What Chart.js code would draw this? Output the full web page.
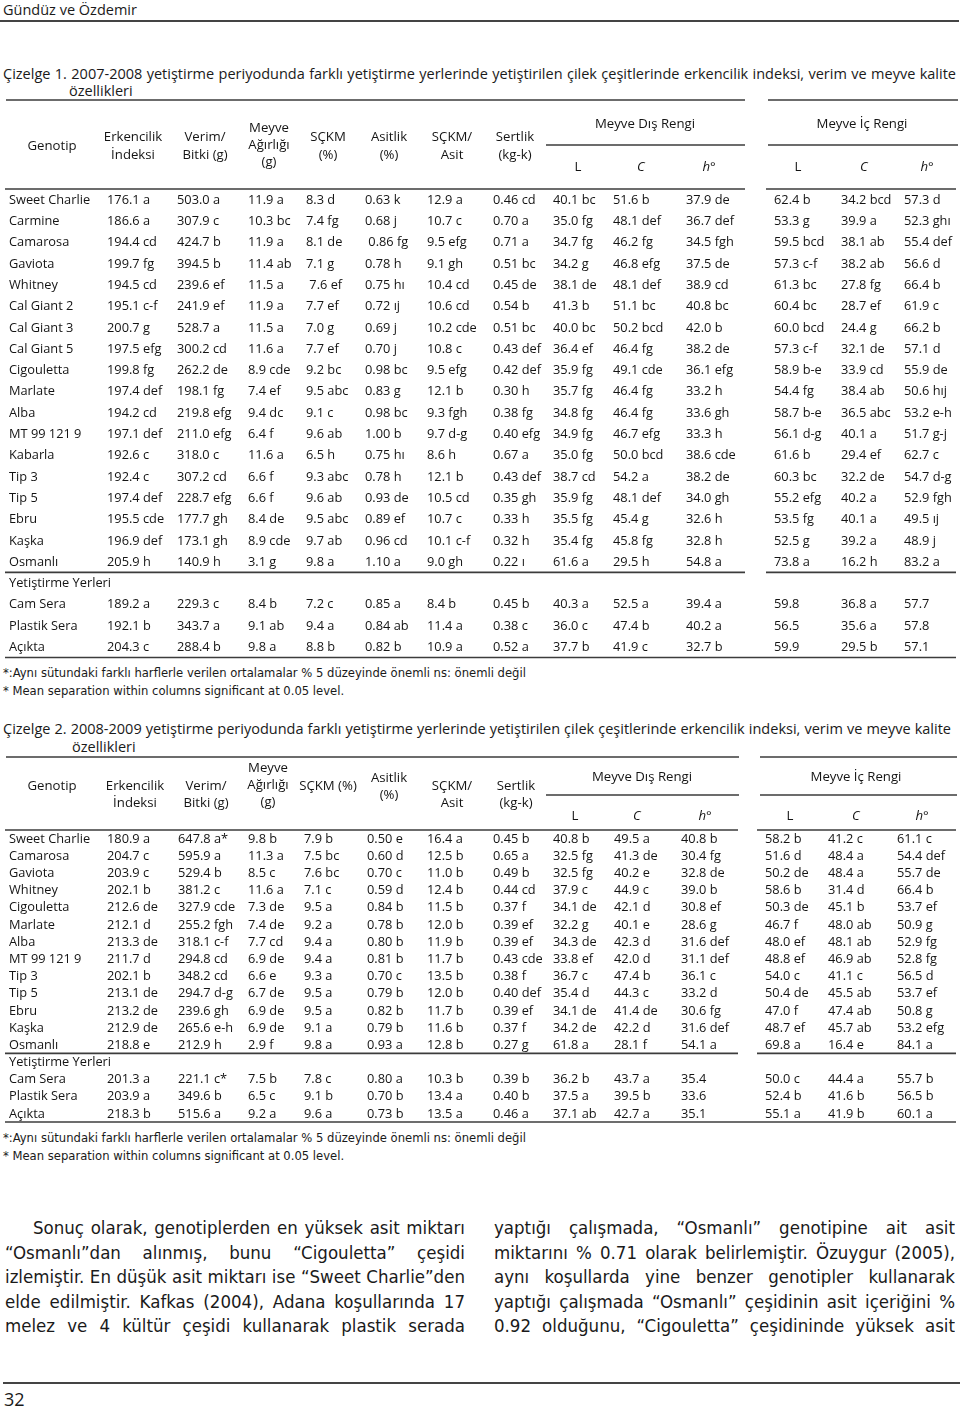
<!DOCTYPE html>
<html lang="tr">
<head>
<meta charset="utf-8">
<title>Çizelge 1 ve 2</title>
<script src="https://cdn.jsdelivr.net/npm/chart.js@4/dist/chart.umd.min.js"></script>
<style>
    html, body { margin: 0; padding: 0; background: #fff; }
    body { width: 960px; height: 1409px; position: relative; overflow: hidden; font-family: 'Open Sans', sans-serif; color: #1a1a1a; }
    .abs { position: absolute; white-space: nowrap; }
    .rule { position: absolute; height: 1.6px; background: #444; }
    .cap { font-size: 15px; line-height: 19px; height: 19px; }
    .note { font-size: 12.9px; line-height: 16px; font-family: 'Liberation Sans Narrow', 'DejaVu Sans Condensed', 'Open Sans', sans-serif; }
    .just { position: absolute; text-align: justify; text-align-last: justify; overflow: hidden; }
    .txt { font-size: 19.5px; line-height: 24px; height: 24px; font-family: 'Liberation Sans Narrow', 'DejaVu Sans Condensed', 'Open Sans', sans-serif; }
    .table-box { position: absolute; left: 0; width: 960px; }
    .table-box canvas { display: block; }
</style>
</head>
<body>
<div class="abs" style="left:3px;top:1px;font-size:14.5px;line-height:18px;">Gündüz ve Özdemir</div>
<div class="rule" style="left:0;top:20px;width:959px;"></div>

<div class="just cap" data-fit="cap" style="left:3px;top:64px;width:953px;">Çizelge 1. 2007-2008 yetiştirme periyodunda farklı yetiştirme yerlerinde yetiştirilen çilek çeşitlerinde erkencilik indeksi, verim ve meyve kalite</div>
<div class="abs cap" data-fit="cap" style="left:69px;top:81px;">özellikleri</div>

<div class="table-box" style="top:95px;height:567px;"><canvas id="table1"></canvas></div>

<div class="abs note" style="left:3px;top:665px;">*:Aynı sütundaki farklı harflerle verilen ortalamalar % 5 düzeyinde önemli ns: önemli değil</div>
<div class="abs note" style="left:3px;top:683px;">* Mean separation within columns significant at 0.05 level.</div>

<div class="just cap" data-fit="cap" style="left:3px;top:719px;width:948px;">Çizelge 2. 2008-2009 yetiştirme periyodunda farklı yetiştirme yerlerinde yetiştirilen çilek çeşitlerinde erkencilik indeksi, verim ve meyve kalite</div>
<div class="abs cap" data-fit="cap" style="left:72px;top:737px;">özellikleri</div>

<div class="table-box" style="top:752px;height:375px;"><canvas id="table2"></canvas></div>

<div class="abs note" style="left:3px;top:1130px;">*:Aynı sütundaki farklı harflerle verilen ortalamalar % 5 düzeyinde önemli ns: önemli değil</div>
<div class="abs note" style="left:3px;top:1148px;">* Mean separation within columns significant at 0.05 level.</div>

<div class="just txt" data-fit="txt" style="left:33px;top:1216px;width:432px;">Sonuç olarak, genotiplerden en yüksek asit miktarı</div>
<div class="just txt" data-fit="txt" style="left:5px;top:1241px;width:460px;">“Osmanlı”dan alınmış, bunu “Cigouletta” çeşidi</div>
<div class="just txt" data-fit="txt" style="left:5px;top:1265px;width:460px;">izlemiştir. En düşük asit miktarı ise “Sweet Charlie”den</div>
<div class="just txt" data-fit="txt" style="left:5px;top:1290px;width:460px;">elde edilmiştir. Kafkas (2004), Adana koşullarında 17</div>
<div class="just txt" data-fit="txt" style="left:5px;top:1314px;width:460px;">melez ve 4 kültür çeşidi kullanarak plastik serada</div>

<div class="just txt" data-fit="txt" style="left:494px;top:1216px;width:461px;">yaptığı çalışmada, “Osmanlı” genotipine ait asit</div>
<div class="just txt" data-fit="txt" style="left:494px;top:1241px;width:461px;">miktarını % 0.71 olarak belirlemiştir. Özuygur (2005),</div>
<div class="just txt" data-fit="txt" style="left:494px;top:1265px;width:461px;">aynı koşullarda yine benzer genotipler kullanarak</div>
<div class="just txt" data-fit="txt" style="left:494px;top:1290px;width:461px;">yaptığı çalışmada “Osmanlı” çeşidinin asit içeriğini %</div>
<div class="just txt" data-fit="txt" style="left:494px;top:1314px;width:461px;">0.92 olduğunu, “Cigouletta” çeşidininde yüksek asit</div>

<div class="rule" style="left:3px;top:1382px;width:957px;"></div>
<div class="abs" style="left:4px;top:1387px;font-size:18px;line-height:24px;">32</div>

<script>
// Table content, read from the page.
const groupLabel = 'Yetiştirme Yerleri';
const colHeads = [['Genotip'], ['Erkencilik', 'İndeksi'], ['Verim/', 'Bitki (g)'], ['Meyve', 'Ağırlığı', '(g)'],
    ['SÇKM', '(%)'], ['Asitlik', '(%)'], ['SÇKM/', 'Asit'], ['Sertlik', '(kg-k)']];
const colHeads2 = [['Genotip'], ['Erkencilik', 'İndeksi'], ['Verim/', 'Bitki (g)'], ['Meyve', 'Ağırlığı', '(g)'],
    ['SÇKM (%)'], ['Asitlik', '(%)'], ['SÇKM/', 'Asit'], ['Sertlik', '(kg-k)']];
const colorGroups = ['Meyve Dış Rengi', 'Meyve İç Rengi'];
const colorParts = ['L', 'C', 'h°'];

// Çizelge 1 (2007-2008)
const t1Genotypes = ['Sweet Charlie', 'Carmine', 'Camarosa', 'Gaviota', 'Whitney', 'Cal Giant 2', 'Cal Giant 3',
    'Cal Giant 5', 'Cigouletta', 'Marlate', 'Alba', 'MT 99 121 9', 'Kabarla', 'Tip 3', 'Tip 5', 'Ebru', 'Kaşka', 'Osmanlı'];
const t1Locations = ['Cam Sera', 'Plastik Sera', 'Açıkta'];
const t1Erkencilik = ['176.1 a', '186.6 a', '194.4 cd', '199.7 fg', '194.5 cd', '195.1 c-f', '200.7 g', '197.5 efg',
    '199.8 fg', '197.4 def', '194.2 cd', '197.1 def', '192.6 c', '192.4 c', '197.4 def', '195.5 cde', '196.9 def', '205.9 h',
    '189.2 a', '192.1 b', '204.3 c'];
const t1Verim = ['503.0 a', '307.9 c', '424.7 b', '394.5 b', '239.6 ef', '241.9 ef', '528.7 a', '300.2 cd', '262.2 de',
    '198.1 fg', '219.8 efg', '211.0 efg', '318.0 c', '307.2 cd', '228.7 efg', '177.7 gh', '173.1 gh', '140.9 h',
    '229.3 c', '343.7 a', '288.4 b'];
const t1Agirlik = ['11.9 a', '10.3 bc', '11.9 a', '11.4 ab', '11.5 a', '11.9 a', '11.5 a', '11.6 a', '8.9 cde', '7.4 ef',
    '9.4 dc', '6.4 f', '11.6 a', '6.6 f', '6.6 f', '8.4 de', '8.9 cde', '3.1 g', '8.4 b', '9.1 ab', '9.8 a'];
const t1Sckm = ['8.3 d', '7.4 fg', '8.1 de', '7.1 g', ' 7.6 ef', '7.7 ef', '7.0 g', '7.7 ef', '9.2 bc', '9.5 abc', '9.1 c',
    '9.6 ab', '6.5 h', '9.3 abc', '9.6 ab', '9.5 abc', '9.7 ab', '9.8 a', '7.2 c', '9.4 a', '8.8 b'];
const t1Asitlik = ['0.63 k', '0.68 j', ' 0.86 fg', '0.78 h', '0.75 hı', '0.72 ıj', '0.69 j', '0.70 j', '0.98 bc', '0.83 g',
    '0.98 bc', '1.00 b', '0.75 hı', '0.78 h', '0.93 de', '0.89 ef', '0.96 cd', '1.10 a', '0.85 a', '0.84 ab', '0.82 b'];
const t1SckmAsit = ['12.9 a', '10.7 c', '9.5 efg', '9.1 gh', '10.4 cd', '10.6 cd', '10.2 cde', '10.8 c', '9.5 efg', '12.1 b',
    '9.3 fgh', '9.7 d-g', '8.6 h', '12.1 b', '10.5 cd', '10.7 c', '10.1 c-f', '9.0 gh', '8.4 b', '11.4 a', '10.9 a'];
const t1Sertlik = ['0.46 cd', '0.70 a', '0.71 a', '0.51 bc', '0.45 de', '0.54 b', '0.51 bc', '0.43 def', '0.42 def', '0.30 h',
    '0.38 fg', '0.40 efg', '0.67 a', '0.43 def', '0.35 gh', '0.33 h', '0.32 h', '0.22 ı', '0.45 b', '0.38 c', '0.52 a'];
const t1DisL = ['40.1 bc', '35.0 fg', '34.7 fg', '34.2 g', '38.1 de', '41.3 b', '40.0 bc', '36.4 ef', '35.9 fg', '35.7 fg',
    '34.8 fg', '34.9 fg', '35.0 fg', '38.7 cd', '35.9 fg', '35.5 fg', '35.4 fg', '61.6 a', '40.3 a', '36.0 c', '37.7 b'];
const t1DisC = ['51.6 b', '48.1 def', '46.2 fg', '46.8 efg', '48.1 def', '51.1 bc', '50.2 bcd', '46.4 fg', '49.1 cde',
    '46.4 fg', '46.4 fg', '46.7 efg', '50.0 bcd', '54.2 a', '48.1 def', '45.4 g', '45.8 fg', '29.5 h', '52.5 a', '47.4 b', '41.9 c'];
const t1DisH = ['37.9 de', '36.7 def', '34.5 fgh', '37.5 de', '38.9 cd', '40.8 bc', '42.0 b', '38.2 de', '36.1 efg', '33.2 h',
    '33.6 gh', '33.3 h', '38.6 cde', '38.2 de', '34.0 gh', '32.6 h', '32.8 h', '54.8 a', '39.4 a', '40.2 a', '32.7 b'];
const t1IcL = ['62.4 b', '53.3 g', '59.5 bcd', '57.3 c-f', '61.3 bc', '60.4 bc', '60.0 bcd', '57.3 c-f', '58.9 b-e', '54.4 fg',
    '58.7 b-e', '56.1 d-g', '61.6 b', '60.3 bc', '55.2 efg', '53.5 fg', '52.5 g', '73.8 a', '59.8', '56.5', '59.9'];
const t1IcC = ['34.2 bcd', '39.9 a', '38.1 ab', '38.2 ab', '27.8 fg', '28.7 ef', '24.4 g', '32.1 de', '33.9 cd', '38.4 ab',
    '36.5 abc', '40.1 a', '29.4 ef', '32.2 de', '40.2 a', '40.1 a', '39.2 a', '16.2 h', '36.8 a', '35.6 a', '29.5 b'];
const t1IcH = ['57.3 d', '52.3 ghı', '55.4 def', '56.6 d', '66.4 b', '61.9 c', '66.2 b', '57.1 d', '55.9 de', '50.6 hıj',
    '53.2 e-h', '51.7 g-j', '62.7 c', '54.7 d-g', '52.9 fgh', '49.5 ıj', '48.9 j', '83.2 a', '57.7', '57.8', '57.1'];

// Çizelge 2 (2008-2009)
const t2Genotypes = ['Sweet Charlie', 'Camarosa', 'Gaviota', 'Whitney', 'Cigouletta', 'Marlate', 'Alba', 'MT 99 121 9',
    'Tip 3', 'Tip 5', 'Ebru', 'Kaşka', 'Osmanlı'];
const t2Locations = ['Cam Sera', 'Plastik Sera', 'Açıkta'];
const t2Erkencilik = ['180.9 a', '204.7 c', '203.9 c', '202.1 b', '212.6 de', '212.1 d', '213.3 de', '211.7 d', '202.1 b',
    '213.1 de', '213.2 de', '212.9 de', '218.8 e', '201.3 a', '203.9 a', '218.3 b'];
const t2Verim = ['647.8 a*', '595.9 a', '529.4 b', '381.2 c', '327.9 cde', '255.2 fgh', '318.1 c-f', '294.8 cd', '348.2 cd',
    '294.7 d-g', '239.6 gh', '265.6 e-h', '212.9 h', '221.1 c*', '349.6 b', '515.6 a'];
const t2Agirlik = ['9.8 b', '11.3 a', '8.5 c', '11.6 a', '7.3 de', '7.4 de', '7.7 cd', '6.9 de', '6.6 e', '6.7 de', '6.9 de',
    '6.9 de', '2.9 f', '7.5 b', '6.5 c', '9.2 a'];
const t2Sckm = ['7.9 b', '7.5 bc', '7.6 bc', '7.1 c', '9.5 a', '9.2 a', '9.4 a', '9.4 a', '9.3 a', '9.5 a', '9.5 a', '9.1 a',
    '9.8 a', '7.8 c', '9.1 b', '9.6 a'];
const t2Asitlik = ['0.50 e', '0.60 d', '0.70 c', '0.59 d', '0.84 b', '0.78 b', '0.80 b', '0.81 b', '0.70 c', '0.79 b', '0.82 b',
    '0.79 b', '0.93 a', '0.80 a', '0.70 b', '0.73 b'];
const t2SckmAsit = ['16.4 a', '12.5 b', '11.0 b', '12.4 b', '11.5 b', '12.0 b', '11.9 b', '11.7 b', '13.5 b', '12.0 b', '11.7 b',
    '11.6 b', '12.8 b', '10.3 b', '13.4 a', '13.5 a'];
const t2Sertlik = ['0.45 b', '0.65 a', '0.49 b', '0.44 cd', '0.37 f', '0.39 ef', '0.39 ef', '0.43 cde', '0.38 f', '0.40 def',
    '0.39 ef', '0.37 f', '0.27 g', '0.39 b', '0.40 b', '0.46 a'];
const t2DisL = ['40.8 b', '32.5 fg', '32.5 fg', '37.9 c', '34.1 de', '32.2 g', '34.3 de', '33.8 ef', '36.7 c', '35.4 d', '34.1 de',
    '34.2 de', '61.8 a', '36.2 b', '37.5 a', '37.1 ab'];
const t2DisC = ['49.5 a', '41.3 de', '40.2 e', '44.9 c', '42.1 d', '40.1 e', '42.3 d', '42.0 d', '47.4 b', '44.3 c', '41.4 de',
    '42.2 d', '28.1 f', '43.7 a', '39.5 b', '42.7 a'];
const t2DisH = ['40.8 b', '30.4 fg', '32.8 de', '39.0 b', '30.8 ef', '28.6 g', '31.6 def', '31.1 def', '36.1 c', '33.2 d',
    '30.6 fg', '31.6 def', '54.1 a', '35.4', '33.6', '35.1'];
const t2IcL = ['58.2 b', '51.6 d', '50.2 de', '58.6 b', '50.3 de', '46.7 f', '48.0 ef', '48.8 ef', '54.0 c', '50.4 de', '47.0 f',
    '48.7 ef', '69.8 a', '50.0 c', '52.4 b', '55.1 a'];
const t2IcC = ['41.2 c', '48.4 a', '48.4 a', '31.4 d', '45.1 b', '48.0 ab', '48.1 ab', '46.9 ab', '41.1 c', '45.5 ab', '47.4 ab',
    '45.7 ab', '16.4 e', '44.4 a', '41.6 b', '41.9 b'];
const t2IcH = ['61.1 c', '54.4 def', '55.7 de', '66.4 b', '53.7 ef', '50.9 g', '52.9 fg', '52.8 fg', '56.5 d', '53.7 ef', '50.8 g',
    '53.2 efg', '84.1 a', '55.7 b', '56.5 b', '60.1 a'];

document.addEventListener('DOMContentLoaded', () => {
    const inkColor = '#141414';
    const ruleColor = '#3c3c3c';
    const cellFont = '12.8px "Open Sans"';
    const headFont = '13.2px "Open Sans"';

    // Page layout of each table (page pixels; x axis runs 0..960).
    const table1 = {
        canvasTop: 95,
        padTop: 94,
        padBottom: 4.5,
        genotypes: t1Genotypes,
        locations: t1Locations,
        columns: [t1Erkencilik, t1Verim, t1Agirlik, t1Sckm, t1Asitlik, t1SckmAsit, t1Sertlik,
            t1DisL, t1DisC, t1DisH, t1IcL, t1IcC, t1IcH],
        colX: [9, 107, 177, 248, 306, 365, 427, 493, 553, 613, 686, 774, 841, 904],
        heads: colHeads,
        headX: [52, 133, 205, 269, 328, 389, 452, 515],
        headY: [146, 137, 137, 128, 137, 137, 137, 137],
        headStep: [0, 18, 18, 17, 18, 18, 18, 18],
        groupX: [645, 862],
        groupY: 124,
        partX: [[578, 641, 709], [798, 864, 927]],
        partY: 167,
        topRuleY: 100,
        topSegs: [[6, 745], [768, 958]],
        subRuleY: 145,
        subSegs: [[546, 745], [768, 958]],
        midSegs: [[5, 745], [766, 956]],
    };
    const table2 = {
        canvasTop: 752,
        padTop: 78,
        padBottom: 5,
        genotypes: t2Genotypes,
        locations: t2Locations,
        columns: [t2Erkencilik, t2Verim, t2Agirlik, t2Sckm, t2Asitlik, t2SckmAsit, t2Sertlik,
            t2DisL, t2DisC, t2DisH, t2IcL, t2IcC, t2IcH],
        colX: [9, 107, 178, 248, 304, 367, 427, 493, 553, 614, 681, 765, 828, 897],
        heads: colHeads2,
        headX: [52, 135, 206, 268, 328, 389, 452, 516],
        headY: [786, 786, 786, 768, 786, 778, 786, 786],
        headStep: [0, 17, 17, 17, 0, 17, 17, 17],
        groupX: [642, 856],
        groupY: 777,
        partX: [[575, 637, 705], [790, 856, 922]],
        partY: 816,
        topRuleY: 757,
        topSegs: [[6, 739], [760, 957]],
        subRuleY: 795,
        subSegs: [[546, 739], [760, 957]],
        midSegs: [[5, 738], [757, 956]],
    };

    function hline(ctx, xScale, y, segs) {
        ctx.beginPath();
        segs.forEach(([x0, x1]) => {
            ctx.moveTo(xScale.getPixelForValue(x0), y);
            ctx.lineTo(xScale.getPixelForValue(x1), y);
        });
        ctx.stroke();
    }

    function tablePlugin(spec) {
        return {
            id: 'tableCells',
            afterDraw(chart) {
                const { ctx, chartArea } = chart;
                const xs = chart.scales.x;
                const ys = chart.scales.y;
                const off = spec.canvasTop;
                const nG = spec.genotypes.length;

                ctx.save();
                ctx.strokeStyle = ruleColor;
                ctx.lineWidth = 1.7;
                hline(ctx, xs, spec.topRuleY - off, spec.topSegs);
                hline(ctx, xs, spec.subRuleY - off, spec.subSegs);
                hline(ctx, xs, chartArea.top, spec.midSegs);
                const split = (ys.getPixelForValue(nG - 1) + ys.getPixelForValue(nG)) / 2;
                hline(ctx, xs, split, spec.midSegs);
                hline(ctx, xs, chartArea.bottom, [[5, 956]]);

                ctx.fillStyle = inkColor;
                ctx.textBaseline = 'middle';
                ctx.textAlign = 'center';
                ctx.font = headFont;
                spec.heads.forEach((lines, i) => {
                    lines.forEach((line, k) => {
                        ctx.fillText(line, xs.getPixelForValue(spec.headX[i]), spec.headY[i] - off + k * spec.headStep[i]);
                    });
                });
                colorGroups.forEach((name, g) => {
                    ctx.font = headFont;
                    ctx.fillText(name, xs.getPixelForValue(spec.groupX[g]), spec.groupY - off);
                    colorParts.forEach((part, p) => {
                        ctx.font = (p > 0 ? 'italic ' : '') + headFont;
                        ctx.fillText(part, xs.getPixelForValue(spec.partX[g][p]), spec.partY - off);
                    });
                });

                // Body cells: one category row per label.
                ctx.textAlign = 'left';
                ctx.font = cellFont;
                ys.getLabels().forEach((label, r) => {
                    ctx.fillText(label, xs.getPixelForValue(spec.colX[0]), ys.getPixelForValue(r) + 0.5);
                });
                spec.columns.forEach((values, c) => {
                    values.forEach((value, i) => {
                        const row = i < nG ? i : i + 1;
                        ctx.fillText(value, xs.getPixelForValue(spec.colX[c + 1]), ys.getPixelForValue(row) + 0.5);
                    });
                });
                ctx.restore();
            },
        };
    }

    function buildTable(canvasId, spec) {
        const canvas = document.getElementById(canvasId);
        if (typeof Chart === 'undefined' || !canvas) {
            return null;
        }
        return new Chart(canvas, {
            type: 'scatter',
            data: { datasets: [] },
            options: {
                responsive: true,
                maintainAspectRatio: false,
                animation: false,
                events: [],
                layout: { padding: { top: spec.padTop, bottom: spec.padBottom, left: 0, right: 0 } },
                plugins: { legend: { display: false }, tooltip: { enabled: false } },
                scales: {
                    x: { type: 'linear', min: 0, max: 960, display: false },
                    y: {
                        type: 'category',
                        labels: [...spec.genotypes, groupLabel, ...spec.locations],
                        offset: true,
                        display: false,
                    },
                },
            },
            plugins: [tablePlugin(spec)],
        });
    }

    // Shrink a group of justified lines together until none of them wraps.
    function fitGroup(name) {
        const lines = [...document.querySelectorAll(`.just[data-fit="${name}"]`)];
        const all = [...document.querySelectorAll(`[data-fit="${name}"]`)];
        if (!lines.length) {
            return;
        }
        let size = parseFloat(getComputedStyle(lines[0]).fontSize);
        const wraps = () => lines.some((el) => el.scrollHeight > el.clientHeight + 1);
        while (wraps() && size > 8) {
            size -= 0.25;
            all.forEach((el) => { el.style.fontSize = `${size}px`; });
        }
    }

    fitGroup('cap');
    fitGroup('txt');
    buildTable('table1', table1);
    buildTable('table2', table2);
});
</script>
</body>
</html>
